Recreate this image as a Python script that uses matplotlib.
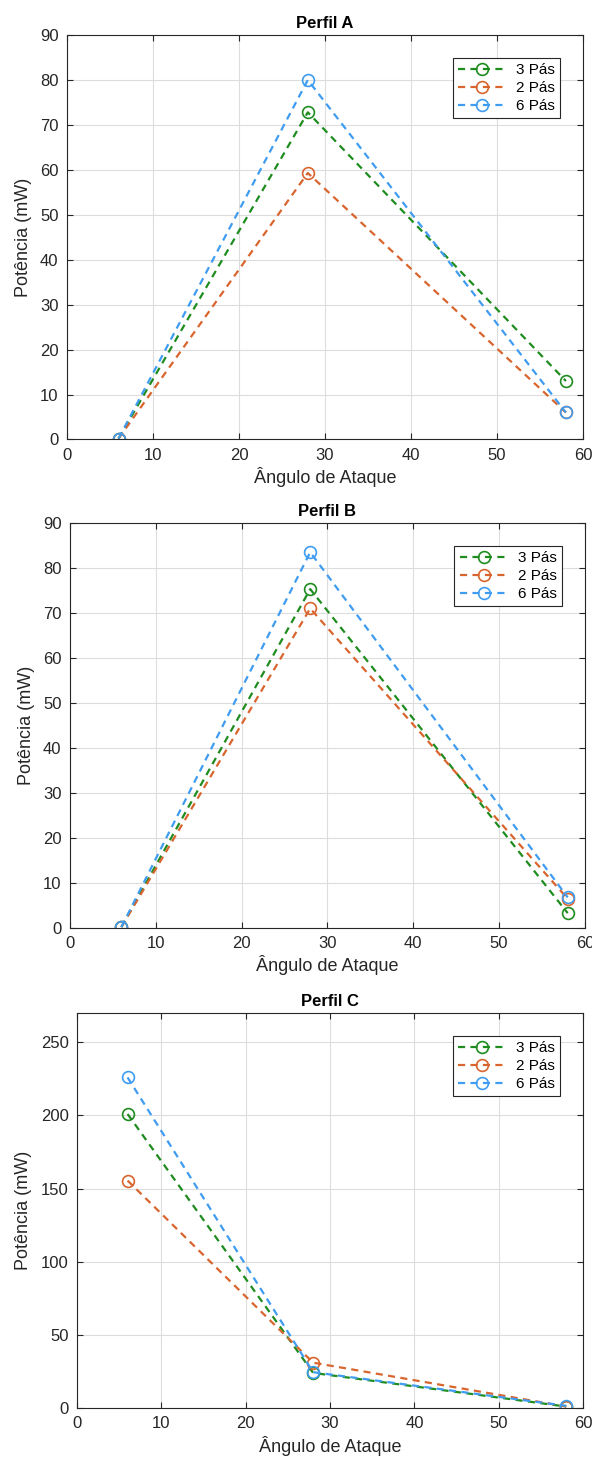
import matplotlib
matplotlib.use("Agg")
import matplotlib.pyplot as plt

plt.rcParams['font.family'] = ['Liberation Sans', 'DejaVu Sans']

angles = [6, 28, 58]
series_labels = ["3 Pás", "2 Pás", "6 Pás"]

perfil_a_3 = [0.2, 72.8, 13.0]
perfil_a_2 = [0.2, 59.3, 6.0]
perfil_a_6 = [0.2, 80.0, 6.0]

perfil_b_3 = [0.2, 75.3, 3.3]
perfil_b_2 = [0.2, 71.0, 6.5]
perfil_b_6 = [0.2, 83.5, 6.8]

perfil_c_3 = [201.0, 24.0, 1.0]
perfil_c_2 = [155.5, 31.0, 1.0]
perfil_c_6 = [226.0, 24.5, 1.5]

titles = ["Perfil A", "Perfil B", "Perfil C"]
xlabel = "Ângulo de Ataque"
ylabel = "Potência (mW)"

colors = ["#1f8c1f", "#d9652e", "#3f9cf0"]

fig = plt.figure(figsize=(5.92, 14.6), dpi=100)
axes_pos = [
    [0.113, 0.699, 0.872, 0.277],
    [0.118, 0.3644, 0.870, 0.2774],
    [0.130, 0.0356, 0.855, 0.2705],
]
data = [
    [perfil_a_3, perfil_a_2, perfil_a_6],
    [perfil_b_3, perfil_b_2, perfil_b_6],
    [perfil_c_3, perfil_c_2, perfil_c_6],
]
ylims = [(0, 90), (0, 90), (0, 270)]
yticks = [list(range(0, 91, 10)), list(range(0, 91, 10)), list(range(0, 251, 50))]

for pos, ser, title, yl, yt in zip(axes_pos, data, titles, ylims, yticks):
    ax = fig.add_axes(pos)
    for vals, lab, c in zip(ser, series_labels, colors):
        ax.plot(angles, vals, linestyle='--', dashes=(3.2, 2.4), color=c, lw=1.6,
                marker='o', markersize=8.5, markerfacecolor='none',
                markeredgewidth=1.2, label=lab)
    ax.set_xlim(0, 60)
    ax.set_ylim(*yl)
    ax.set_xticks(range(0, 61, 10))
    ax.set_yticks(yt)
    ax.grid(True, color='#dddddd', lw=0.8)
    ax.set_axisbelow(True)
    for s in ax.spines.values():
        s.set_color('#262626')
        s.set_linewidth(0.8)
    ax.tick_params(direction='in', top=True, right=True, colors='#262626',
                   labelsize=12, length=4, pad=6, labelcolor='#262626')
    ax.set_title(title, fontsize=12, fontweight='bold', pad=5)
    ax.set_xlabel(xlabel, fontsize=13, color='#262626', labelpad=3)
    ax.set_ylabel(ylabel, fontsize=13, color='#262626', labelpad=6)
    leg = ax.legend(loc='upper right', fontsize=11, fancybox=False,
                    edgecolor='#262626', framealpha=1, borderaxespad=1.5,
                    handlelength=3.2, labelspacing=0.25, borderpad=0.35,
                    handletextpad=0.6)
    leg.get_frame().set_linewidth(0.8)

fig.savefig("out.png", dpi=100)
